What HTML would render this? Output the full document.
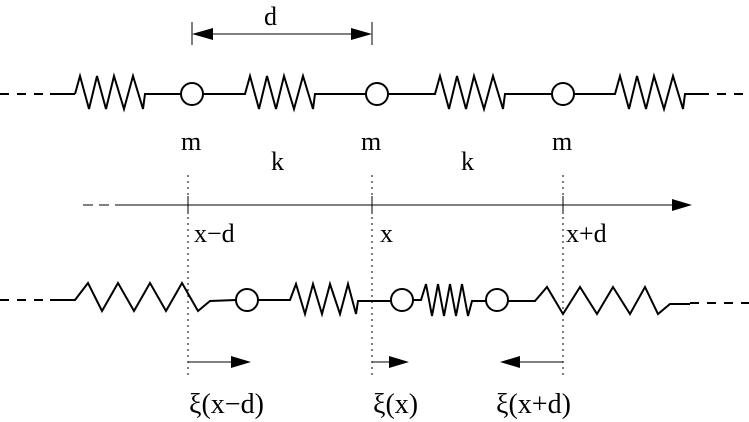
<!DOCTYPE html>
<html><head><meta charset="utf-8"><style>
html,body{margin:0;padding:0;background:#fff;}
svg{display:block;}
text{font-family:"Liberation Serif",serif;font-size:26px;fill:#000;}
.xi{font-size:28px;}
</style></head><body>
<svg width="749" height="422" viewBox="0 0 749 422" xmlns="http://www.w3.org/2000/svg">
<g stroke="#000" fill="none" stroke-width="2">
<line x1="0" y1="94" x2="50" y2="94" stroke-dasharray="9,8"/>
<line x1="50" y1="94" x2="75" y2="94"/>
<polyline points="75,94 80,76 89,109 97,76 106,109 114,76 124,109 133,76 143,109 145,94 181,94"/>
<circle cx="192" cy="94" r="11"/>
<polyline points="203,94 245,94 250,76 259,109 267,76 276,109 284,76 294,109 303,76 313,109 315,94 366,94"/>
<circle cx="377" cy="94" r="11"/>
<polyline points="388,94 435,94 440,76 449,109 457,76 466,109 474,76 484,109 493,76 503,109 505,94 552,94"/>
<circle cx="563" cy="94" r="11"/>
<polyline points="574,94 615,94 620,76 629,109 637,76 646,109 654,76 664,109 673,76 683,109 685,94 700,94"/>
<line x1="700" y1="94" x2="749" y2="94" stroke-dasharray="9,8"/>
<line x1="192" y1="22" x2="192" y2="45" stroke-width="1"/>
<line x1="372" y1="22" x2="372" y2="45" stroke-width="1"/>
<line x1="200" y1="34" x2="364" y2="34" stroke-width="1"/>
<line x1="83" y1="205" x2="125" y2="205" stroke-width="1" stroke-dasharray="10,6"/>
<line x1="125" y1="205" x2="675" y2="205" stroke-width="1"/>
<line x1="188" y1="196" x2="188" y2="214" stroke-width="1"/>
<line x1="372" y1="196" x2="372" y2="214" stroke-width="1"/>
<line x1="563" y1="196" x2="563" y2="214" stroke-width="1"/>
<g stroke-width="1" stroke-dasharray="2,4">
<line x1="188" y1="175" x2="188" y2="375"/>
<line x1="372" y1="175" x2="372" y2="375"/>
<line x1="563" y1="175" x2="563" y2="375"/>
</g>
<line x1="0" y1="300" x2="50" y2="300" stroke-dasharray="9,8"/>
<polyline points="50,300 75,300 88,283 102,311 118,283 134,311 150,283 166,311 182,283 198,311 210,301 236,300"/>
<circle cx="247" cy="300" r="11"/>
<polyline points="258,300 290,300 296,284 305,314 313,284 322,314 330,284 340,314 348,284 356,314 358,301 391,301"/>
<circle cx="402" cy="300" r="11"/>
<polyline points="413,300 421,300 426,284 432,316 438,284 444,316 450,284 456,316 462,284 468,316 472,301 486,301"/>
<circle cx="497" cy="300" r="11"/>
<polyline points="508,301 535,301 547,287 563,314 580,287 597,314 613,287 630,314 645,287 658,314 670,304 690,304"/>
<line x1="690" y1="303" x2="749" y2="303" stroke-dasharray="9,8"/>
<line x1="188" y1="362" x2="236" y2="362" stroke-width="1"/>
<line x1="372" y1="362" x2="396" y2="362" stroke-width="1"/>
<line x1="563" y1="362" x2="514" y2="362" stroke-width="1"/>
</g>
<g fill="#000">
<polygon points="192,34 213,28 213,40"/>
<polygon points="372,34 351,28 351,40"/>
<polygon points="692,205 672,199 672,211"/>
<polygon points="251,362 231,356 231,368"/>
<polygon points="409,362 389,356 389,368"/>
<polygon points="500,362 520,356 520,368"/>
</g>
<text x="264" y="25">d</text>
<text x="181" y="150">m</text>
<text x="361" y="150">m</text>
<text x="552" y="150">m</text>
<text x="271" y="170">k</text>
<text x="461" y="170">k</text>
<text x="194" y="242">x−d</text>
<text x="380" y="242">x</text>
<text x="566" y="242">x+d</text>
<text class="xi" x="189" y="413">ξ(x−d)</text>
<text class="xi" x="373" y="413">ξ(x)</text>
<text class="xi" x="496" y="413">ξ(x+d)</text>
</svg>
</body></html>
